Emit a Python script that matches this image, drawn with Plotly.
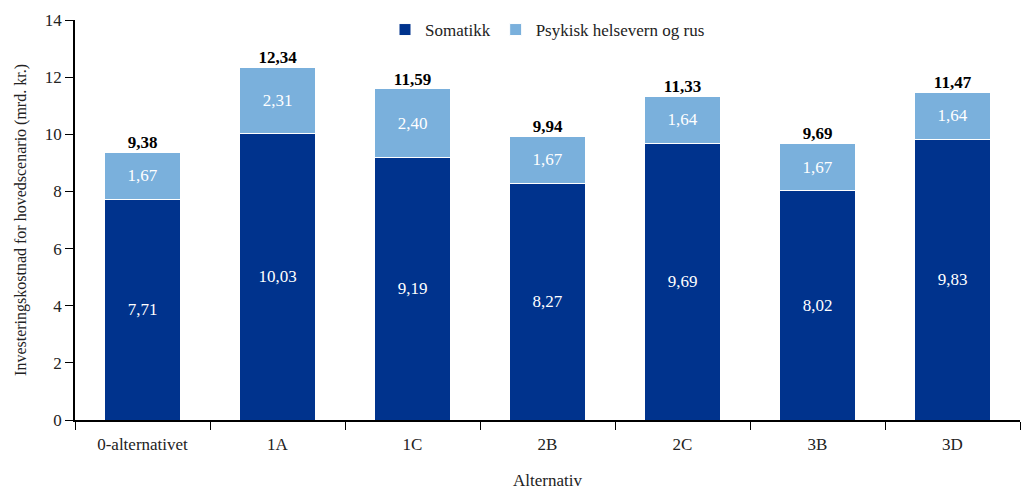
import plotly.graph_objects as go

categories = ["0-alternativet", "1A", "1C", "2B", "2C", "3B", "3D"]
somatikk = [7.71, 10.03, 9.19, 8.27, 9.69, 8.02, 9.83]
psykisk = [1.67, 2.31, 2.40, 1.67, 1.64, 1.67, 1.64]
y_ticks = [0, 2, 4, 6, 8, 10, 12, 14]

totals = [round(a + b, 2) for a, b in zip(somatikk, psykisk)]


def fmt(v):
    return f"{v:.2f}".replace(".", ",")


FONT = "'Liberation Serif', 'Times New Roman', 'DejaVu Serif', serif"
DARK = "#00338d"
LIGHT = "#7ab0dc"
TXT = "#222"

fig = go.Figure()
fig.add_bar(
    x=categories, y=somatikk, name="Somatikk",
    marker=dict(color=DARK, line=dict(color="white", width=1)),
    text=[fmt(v) for v in somatikk], textposition="inside",
    insidetextanchor="middle",
    textfont=dict(color="white", size=17, family=FONT),
    hoverinfo="skip",
)
fig.add_bar(
    x=categories, y=psykisk, name="Psykisk helsevern og rus",
    marker=dict(color=LIGHT, line=dict(color="white", width=1)),
    text=[fmt(v) for v in psykisk], textposition="inside",
    insidetextanchor="middle",
    textfont=dict(color="white", size=17, family=FONT),
    hoverinfo="skip",
)
fig.add_scatter(
    x=categories, y=totals, mode="text",
    text=[f"<b>{fmt(v)}</b>" for v in totals],
    textposition="top center",
    textfont=dict(color="black", size=17, family=FONT),
    showlegend=False, hoverinfo="skip",
)

fig.update_layout(
    width=1030, height=490,
    margin=dict(l=75, r=10, t=20, b=70),
    barmode="stack", bargap=0.44,
    plot_bgcolor="white", paper_bgcolor="white",
    font=dict(family=FONT, size=17, color=TXT),
    uniformtext=dict(minsize=17, mode="show"),
    legend=dict(
        orientation="h", x=0.5, xanchor="center", y=1.02, yanchor="top",
        traceorder="normal",
        font=dict(size=17, family=FONT, color=TXT),
        bgcolor="rgba(0,0,0,0)",
    ),
    xaxis=dict(
        automargin=False,
        showline=True, linecolor="black", linewidth=1.5,
        ticks="outside", tickson="boundaries", ticklen=8,
        tickcolor="black", tickwidth=1, ticklabelstandoff=8,
        tickfont=dict(size=17, family=FONT, color=TXT),
        title=dict(text="Alternativ", font=dict(size=17, family=FONT, color=TXT), standoff=30),
    ),
    yaxis=dict(
        automargin=False,
        range=[0, 14], tickvals=y_ticks,
        showline=True, linecolor="black", linewidth=1.5,
        ticks="outside", ticklen=8, tickcolor="black", tickwidth=1,
        showgrid=False, zeroline=False,
        tickfont=dict(size=17, family=FONT, color=TXT),
        title=dict(text="Investeringskostnad for hovedscenario (mrd. kr.)",
                   font=dict(size=16, family=FONT, color=TXT), standoff=14),
    ),
)

fig.write_html("out.html")
